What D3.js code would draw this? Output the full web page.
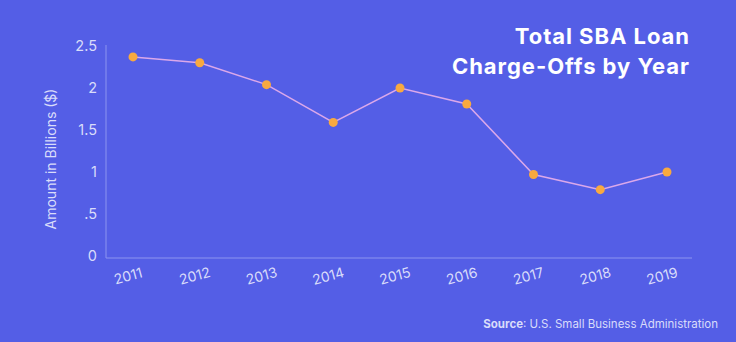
<!DOCTYPE html>
<html>
<head>
<meta charset="utf-8">
<script src="https://cdn.jsdelivr.net/npm/d3@7"></script>
<style>
  body { margin: 0; background: #545ee6; }
  svg { display: block; font-family: Inter, "Noto Sans", sans-serif; }
</style>
</head>
<body>
<div id="chart"></div>
<script>
// data
var years = ["2011", "2012", "2013", "2014", "2015", "2016", "2017", "2018", "2019"];
var amounts = [2.37, 2.30, 2.04, 1.59, 2.00, 1.81, 0.97, 0.79, 1.00];
var yTicks = [0, 0.5, 1, 1.5, 2, 2.5];
var yTickLabels = ["0", ".5", "1", "1.5", "2", "2.5"];

var width = 736, height = 342;

var svg = d3.select("#chart").append("svg")
  .attr("width", width)
  .attr("height", height);

svg.append("rect")
  .attr("width", width)
  .attr("height", height)
  .attr("fill", "#545ee6");

var x = d3.scalePoint()
  .domain(years)
  .range([133, 667]);

var y = d3.scaleLinear()
  .domain([0, 2.5])
  .range([256, 46]);

var textCol = "#d9dcfa";
var axisCol = "#8c94f0";

// axis lines (no tick marks)
svg.append("line")
  .attr("x1", 106).attr("x2", 106)
  .attr("y1", y(2.5) - 1).attr("y2", y(0) + 2)
  .attr("stroke", axisCol).attr("stroke-width", 1);

svg.append("line")
  .attr("x1", 106).attr("x2", 692)
  .attr("y1", y(0) + 2).attr("y2", y(0) + 2)
  .attr("stroke", axisCol).attr("stroke-width", 1);

// y tick labels
svg.selectAll(".ytick")
  .data(yTicks)
  .enter().append("text")
  .attr("class", "ytick")
  .attr("x", 97)
  .attr("y", d => y(d))
  .attr("dy", "0.35em")
  .attr("text-anchor", "end")
  .attr("font-size", 14.5)
  .attr("fill", textCol)
  .text((d, i) => yTickLabels[i]);

// x tick labels, tilted
svg.selectAll(".xtick")
  .data(years)
  .enter().append("text")
  .attr("class", "xtick")
  .attr("transform", d => "translate(" + (x(d) - 5) + ",276) rotate(-15)")
  .attr("dy", "0.35em")
  .attr("text-anchor", "middle")
  .attr("font-size", 14)
  .attr("fill", textCol)
  .text(d => d);

// y axis title
svg.append("text")
  .attr("transform", "translate(51,159) rotate(-90)")
  .attr("dy", "0.35em")
  .attr("text-anchor", "middle")
  .attr("font-size", 14)
  .attr("fill", textCol)
  .text("Amount in Billions ($)");

// line
var line = d3.line()
  .x((d, i) => x(years[i]))
  .y(d => y(d));

svg.append("path")
  .datum(amounts)
  .attr("d", line)
  .attr("fill", "none")
  .attr("stroke", "#dba8ea")
  .attr("stroke-width", 1.5);

svg.selectAll(".dot")
  .data(amounts)
  .enter().append("circle")
  .attr("class", "dot")
  .attr("cx", (d, i) => x(years[i]))
  .attr("cy", d => y(d))
  .attr("r", 4.5)
  .attr("fill", "#f8a940");

// title
var title = svg.append("text")
  .attr("text-anchor", "end")
  .attr("font-size", 22)
  .attr("font-weight", 700)
  .attr("fill", "#ffffff");
title.append("tspan").attr("x", 690).attr("y", 44).text("Total SBA Loan");
var t2 = title.append("tspan").attr("x", 690).attr("y", 74).text("Charge-Offs by Year");

// widen the title to the width seen in the picture
var w2 = t2.node().getComputedTextLength();
title.attr("letter-spacing", ((237 - w2) / 18).toFixed(2) + "px");

// source note
var src = svg.append("text")
  .attr("x", 718)
  .attr("y", 328)
  .attr("text-anchor", "end")
  .attr("font-size", 11.5)
  .attr("fill", textCol);
src.append("tspan").attr("font-weight", 700).text("Source");
src.append("tspan").text(": U.S. Small Business Administration");
</script>
</body>
</html>
